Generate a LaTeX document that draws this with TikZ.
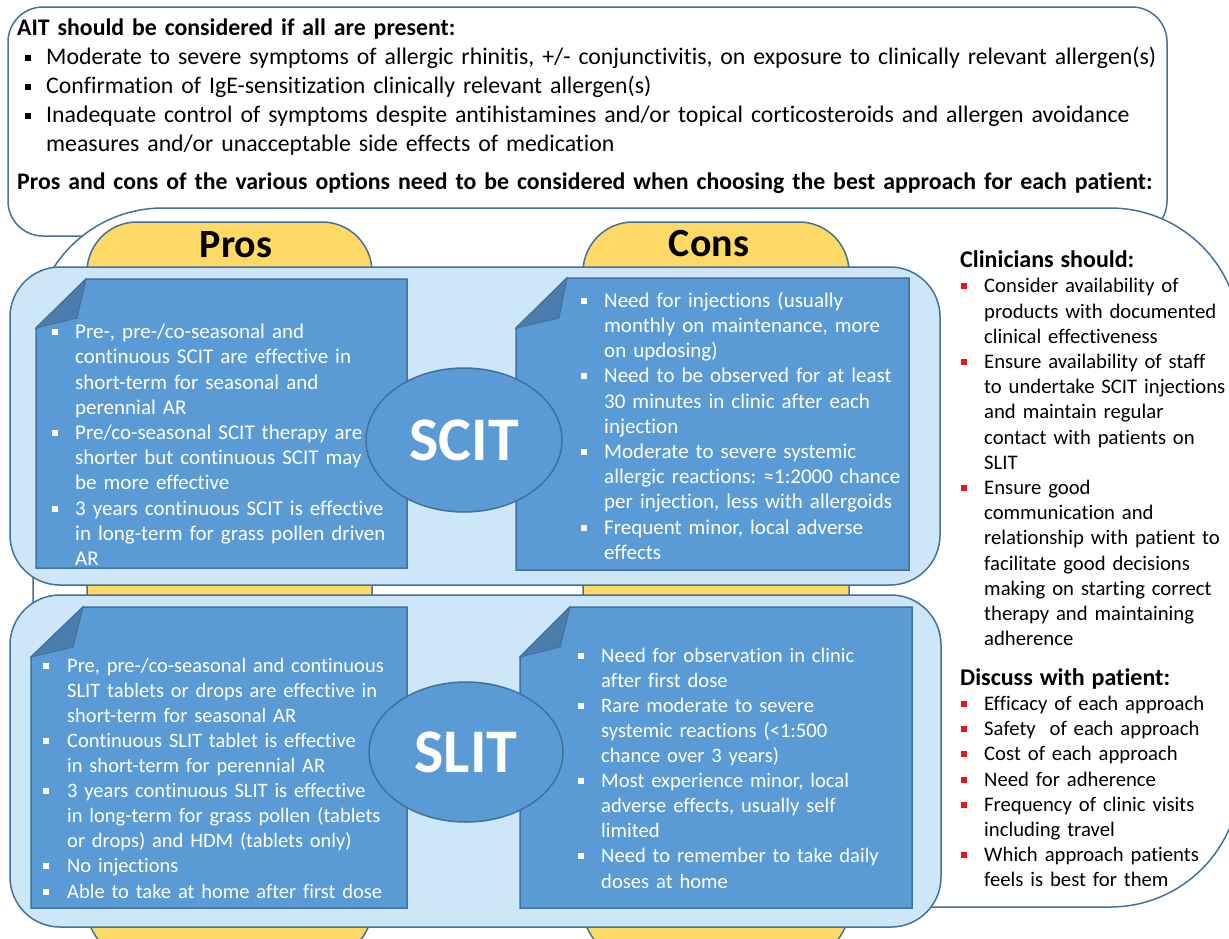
\documentclass[tikz,border=0pt]{standalone}
\usepackage{fontspec}
\setmainfont{Carlito}[Ligatures=NoCommon]
\usetikzlibrary{shapes.geometric}

\definecolor{edgeblue}{HTML}{41719C}
\definecolor{tabyellow}{HTML}{FFD966}
\definecolor{panelblue}{HTML}{CDE7F9}
\definecolor{noteblue}{HTML}{5B9BD5}
\definecolor{foldblue}{HTML}{4A7DAD}
\definecolor{bulletred}{HTML}{E8161B}

% line strut, square bullet and hanging list item
\newcommand{\bstrut}{\rule[-0.3\baselineskip]{0pt}{\baselineskip}}
\newcommand{\sqbul}[1]{\raisebox{3.5pt}{\color{#1}\rule{6pt}{6pt}}}
\newcommand{\bitem}[3]{\noindent\hangindent=#1\hangafter=1\bstrut\makebox[#1][l]{\hspace*{#2}\sqbul{#3}}}

\begin{document}
\begin{tikzpicture}[x=1pt, y=-1pt]

% definitions
\tikzstyle{outline} = [draw=edgeblue, line width=1.5pt]

\tikzstyle{topbox} = [outline, fill=white, rounded corners=35pt]

\tikzstyle{bigbox} = [outline, fill=white, rounded corners=130pt]

\tikzstyle{tab} = [outline, fill=tabyellow, rounded corners=50pt]

\tikzstyle{panel} = [outline, fill=panelblue, rounded corners=50pt]

\tikzstyle{note} = [outline, fill=noteblue]

\tikzstyle{fold} = [draw=edgeblue, line width=1pt, fill=foldblue]

\tikzstyle{oval} = [ellipse, outline, fill=noteblue, text=white, inner sep=0pt, minimum width=196pt, minimum height=144pt, font=\fontsize{62}{70}\selectfont\bfseries]

\tikzstyle{tablabel} = [inner sep=0pt, font=\fontsize{40}{48}\selectfont\bfseries]

\tikzstyle{toptext} = [anchor=north west, inner sep=0pt, text width=1190pt, font=\fontsize{23.8}{29}\selectfont]

\tikzstyle{notetext} = [anchor=north west, inner sep=0pt, text width=400pt, text=white, font=\fontsize{21}{25.2}\selectfont]

\tikzstyle{sidetext} = [anchor=north west, inner sep=0pt, text width=300pt, font=\fontsize{20.7}{25.2}\selectfont]

\clip (0,0) rectangle (1229,938);

% the shapes
\draw [topbox] (8,7) rectangle (1167,236);
\draw [bigbox] (33,208) rectangle (1240,907);

\draw [tab] (87,222) rectangle (372,958);
\draw [tab] (583,222) rectangle (849,958);

\draw [panel] (10,267) rectangle (940,585);
\draw [panel] (10,595) rectangle (941,927);

\draw [note] (36,328) -- (86,279) -- (407,279) -- (407,568) -- (36,568) -- cycle;
\draw [fold] (86,279) -- (77,318) -- (36,328) -- cycle;

\draw [note] (516,328) -- (567,278) -- (909,278) -- (909,570) -- (516,570) -- cycle;
\draw [fold] (567,278) -- (559,318) -- (516,328) -- cycle;

\draw [note] (31,657) -- (83,607) -- (407,607) -- (407,908) -- (31,908) -- cycle;
\draw [fold] (83,607) -- (73,647) -- (31,657) -- cycle;

\draw [note] (520,657) -- (570,607) -- (912,607) -- (912,908) -- (520,908) -- cycle;
\draw [fold] (570,607) -- (560,647) -- (520,657) -- cycle;

% the labels
\node (scit) [oval] at (464,440) {SCIT};

\node (slit) [oval, minimum width=194pt, minimum height=140pt] at (466,752) {SLIT};

\node (pros) [tablabel] at (236,245) {Pros};

\node (cons) [tablabel] at (709,244) {Cons};

\node (ait) [toptext] at (17,14.5) {\noindent\bstrut\textbf{AIT should be considered if all are present:}\par
\bitem{29pt}{8pt}{black}Moderate to severe symptoms of allergic rhinitis, +/- conjunctivitis, on exposure to clinically relevant allergen(s)\par
\bitem{29pt}{8pt}{black}Confirmation of IgE-sensitization clinically relevant allergen(s)\par
\bitem{29pt}{8pt}{black}Inadequate control of symptoms despite antihistamines and/or topical corticosteroids and allergen avoidance\newline measures and/or unacceptable side effects of medication\par
\vspace{9pt}\noindent\bstrut\textbf{Pros and cons of the various options need to be considered when choosing the best approach for each patient:}\par};

\node (scitpros) [notetext] at (52,320.9) {%
\bitem{23pt}{0pt}{white}Pre-, pre-/co-seasonal and\newline continuous SCIT are effective in\newline short-term for seasonal and\newline perennial AR\par
\bitem{23pt}{0pt}{white}Pre/co-seasonal SCIT therapy are\newline shorter but continuous SCIT may\newline be more effective\par
\bitem{23pt}{0pt}{white}3 years continuous SCIT is effective\newline in long-term for grass pollen driven\newline AR\par};

\node (scitcons) [notetext] at (581,289.4) {%
\bitem{23pt}{0pt}{white}Need for injections (usually\newline monthly on maintenance, more\newline on updosing)\par
\bitem{23pt}{0pt}{white}Need to be observed for at least\newline 30 minutes in clinic after each\newline injection\par
\bitem{23pt}{0pt}{white}Moderate to severe systemic\newline allergic reactions: \kern-3pt≈1:2000 chance\newline per injection, less with allergoids\par
\bitem{23pt}{0pt}{white}Frequent minor, local adverse\newline effects\par};

\node (slitpros) [notetext, font=\fontsize{20.5}{25.1}\selectfont] at (43,654.4) {%
\bitem{24pt}{0pt}{white}Pre, pre-/co-seasonal and continuous\newline SLIT tablets or drops are effective in\newline short-term for seasonal AR\par
\bitem{24pt}{0pt}{white}Continuous SLIT tablet is effective\newline in short-term for perennial AR\par
\bitem{24pt}{0pt}{white}3 years continuous SLIT is effective\newline in long-term for grass pollen (tablets\newline or drops) and HDM (tablets only)\par
\bitem{24pt}{0pt}{white}No injections\par
\bitem{24pt}{0pt}{white}Able to take at home after first dose\par};

\node (slitcons) [notetext, font=\fontsize{20.6}{25.1}\selectfont] at (578,644.4) {%
\bitem{23pt}{0pt}{white}Need for observation in clinic\newline after first dose\par
\bitem{23pt}{0pt}{white}Rare moderate to severe\newline systemic reactions (<1:500\newline chance over 3 years)\par
\bitem{23pt}{0pt}{white}Most experience minor, local\newline adverse effects, usually self\newline limited\par
\bitem{23pt}{0pt}{white}Need to remember to take daily\newline doses at home\par};

\node (clinicians) [sidetext] at (960,249.9) {\noindent\bstrut{\fontsize{24}{25.2}\selectfont\bfseries Clinicians should:}\par
\bitem{24pt}{1pt}{bulletred}Consider availability of\newline products with documented\newline clinical effectiveness\par
\bitem{24pt}{1pt}{bulletred}Ensure availability of staff\newline to undertake SCIT injections\newline and maintain regular\newline contact with patients on\newline SLIT\par
\bitem{24pt}{1pt}{bulletred}Ensure good\newline communication and\newline relationship with patient to\newline facilitate good decisions\newline making on starting correct\newline therapy and maintaining\newline adherence\par};

\node (discuss) [sidetext] at (960,667.4) {\noindent\bstrut{\fontsize{24}{25.2}\selectfont\bfseries Discuss with patient:}\par
\bitem{24pt}{1pt}{bulletred}Efficacy of each approach\par
\bitem{24pt}{1pt}{bulletred}Safety\ \ of each approach\par
\bitem{24pt}{1pt}{bulletred}Cost of each approach\par
\bitem{24pt}{1pt}{bulletred}Need for adherence\par
\bitem{24pt}{1pt}{bulletred}Frequency of clinic visits\newline including travel\par
\bitem{24pt}{1pt}{bulletred}Which approach patients\newline feels is best for them\par};

\end{tikzpicture}
\end{document}
